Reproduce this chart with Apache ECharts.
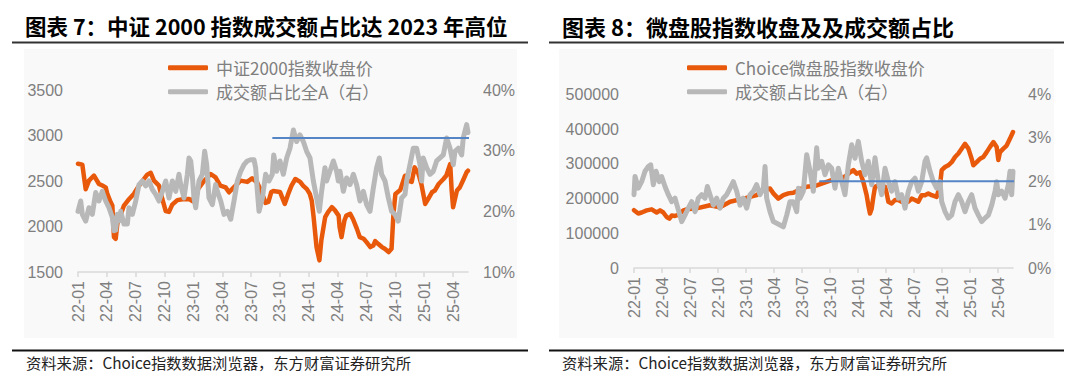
<!DOCTYPE html>
<html><head><meta charset="utf-8">
<script src="https://cdn.jsdelivr.net/npm/echarts@6/dist/echarts.min.js"></script>
<style>html,body{margin:0;padding:0;background:#fff}#c{width:1080px;height:380px}</style>
</head><body><div id="c"></div>
<script>
// ---- tick labels (x positions are months since 2022-01) ----
const xTickLabels = ['22-01','22-04','22-07','22-10','23-01','23-04','23-07','23-10','24-01','24-04','24-07','24-10','25-01','25-04'];

// ---- Chart 7: CSI 2000 close ----
const csiT = [
  0, 0.45, 0.8, 1.14, 1.66, 2.18, 2.53, 2.88, 3.05, 3.4,
  3.57, 3.74, 3.92, 4.09, 4.78, 5.3, 5.82, 6.17, 6.69, 7.2,
  7.56, 7.9, 8.42, 8.77, 9.12, 9.46, 9.8, 10.33, 10.85, 11.54,
  11.89, 12.4, 13.1, 13.8, 14.3, 14.8, 15.35, 15.7, 16.2, 16.9,
  17.6, 18.1, 18.65, 19.0, 19.5, 19.8, 20.1, 20.3, 21.0, 21.5,
  21.9, 22.2, 22.6, 23.1, 23.4, 23.8, 24.1, 24.3, 24.5, 24.8,
  25.1, 25.3, 25.7, 26.0, 26.4, 26.7, 27.1, 27.2, 27.4, 27.7,
  27.9, 28.3, 28.6, 29.0, 29.3, 29.7, 30.0, 30.4, 30.7, 30.9,
  31.2, 31.6, 31.9, 32.3, 32.6, 32.8, 33.0, 33.5, 34.0, 34.3,
  34.7, 35.0, 35.4, 35.7, 36.1, 36.4, 36.8, 37.1, 37.5, 38.0,
  38.3, 38.7, 38.85, 39.0, 39.4, 39.7, 40.1, 40.4, 40.55];
const csiClose = [
  2690, 2680, 2410, 2504, 2560, 2467, 2450, 2430, 2358, 2266,
  2230, 1883, 1865, 2029, 2230, 2300, 2360, 2420, 2500, 2570,
  2590, 2504, 2449, 2300, 2170, 2160, 2240, 2290, 2300, 2303,
  2280, 2400, 2500, 2577, 2540, 2450, 2430, 2376, 2430, 2504,
  2490, 2530, 2480, 2400, 2260, 2270, 2380, 2390, 2380, 2248,
  2370, 2450, 2522, 2490, 2449, 2410, 2358, 2285, 2102, 1774,
  1628, 1847, 2102, 2157, 2212, 2180, 2120, 1993, 1883, 2066,
  2120, 2139, 2080, 1974, 1883, 1865, 1828, 1774, 1790, 1840,
  1810, 1774, 1755, 1719, 1755, 2139, 2358, 2400, 2558, 2504,
  2490, 2650, 2577, 2467, 2248, 2300, 2376, 2395, 2467, 2522,
  2560, 2686, 2400, 2212, 2395, 2430, 2522, 2595, 2613];

// ---- Chart 7: CSI 2000 turnover share of all A (%) ----
const csiShareT = [
  0, 0.28, 0.45, 0.8, 1.14, 1.49, 1.84, 2.18, 2.53, 2.88,
  3.22, 3.57, 3.74, 3.92, 4.09, 4.26, 4.44, 4.78, 5.13, 5.3,
  5.65, 6.0, 6.34, 6.69, 7.04, 7.38, 7.73, 8.08, 8.42, 8.77,
  9.12, 9.46, 9.81, 10.16, 10.5, 10.68, 11.02, 11.37, 11.54, 11.72,
  11.89, 12.06, 12.24, 12.58, 12.93, 13.17, 13.38, 13.62, 13.97, 14.31,
  14.49, 14.84, 15.18, 15.53, 15.88, 16.22, 16.57, 16.92, 17.26, 17.6,
  17.95, 18.3, 18.47, 18.65, 18.82, 19.17, 19.51, 19.86, 20.2, 20.35,
  20.65, 21.0, 21.35, 21.7, 22.04, 22.4, 22.73, 23.08, 23.43, 23.77,
  24.12, 24.47, 24.81, 25.09, 25.33, 25.68, 25.85, 26.2, 26.55, 26.89,
  27.07, 27.24, 27.59, 27.93, 28.28, 28.63, 28.97, 29.32, 29.67, 30.01,
  30.36, 30.7, 31.05, 31.33, 31.57, 31.92, 32.27, 32.61, 32.96, 33.3,
  33.65, 34.0, 34.17, 34.52, 34.86, 35.21, 35.56, 35.73, 35.9, 36.25,
  36.6, 36.94, 37.29, 37.64, 37.98, 38.33, 38.68, 39.02, 39.2, 39.54,
  39.89, 40.06, 40.41, 40.55];
const csiShare = [
  20.0, 21.7, 19.5, 18.4, 20.6, 19.5, 23.1, 21.7, 23.3, 21.7,
  20.6, 19.0, 16.8, 16.9, 19.5, 18.4, 20.0, 17.9, 17.9, 20.6,
  19.5, 21.7, 24.4, 25.0, 24.2, 25.0, 23.6, 22.8, 21.7, 23.3,
  25.0, 22.2, 25.0, 23.3, 26.1, 24.4, 22.2, 26.1, 28.8, 28.3,
  25.8, 22.2, 20.6, 25.0, 26.1, 29.9, 27.7, 22.2, 21.1, 24.4,
  23.3, 21.7, 19.5, 20.0, 18.7, 21.7, 25.0, 26.6, 27.7, 28.3,
  28.5, 28.5, 27.2, 23.3, 20.0, 22.2, 26.1, 25.0, 26.1, 29.3,
  26.6, 28.3, 26.1, 28.8, 30.4, 33.4, 31.5, 32.6, 31.5, 29.9,
  28.8, 25.0, 22.2, 20.0, 23.3, 27.2, 25.0, 26.6, 28.3, 26.6,
  25.0, 26.6, 23.3, 25.5, 24.4, 26.1, 24.4, 21.7, 23.3, 21.1,
  20.0, 23.8, 27.2, 28.8, 26.1, 25.0, 22.2, 20.0, 19.5, 18.4,
  22.2, 22.8, 25.0, 27.7, 30.4, 30.4, 27.7, 25.0, 28.8, 27.2,
  26.1, 26.6, 28.3, 28.8, 29.3, 32.1, 30.4, 27.7, 29.9, 30.4,
  29.3, 32.1, 34.3, 33.0];
const csiRefT = [20.28, 41.07];
const csiRefLevel = [32.1, 32.1];

// ---- Chart 8: Choice micro-cap index close ----
const microT = [
  0, 0.46, 0.82, 1.36, 1.89, 2.43, 2.79, 3.14, 3.5, 3.79,
  4.04, 4.39, 4.75, 5.29, 5.64, 6.71, 8.14, 9.21, 10.29, 11.71,
  12.43, 13.14, 13.86, 14.57, 14.93, 15.46, 16.0, 16.54, 17.07, 17.61,
  17.96, 18.5, 19.57, 20.11, 20.64, 21.17, 21.89, 22.25, 22.78, 23.14,
  23.5, 23.85, 24.21, 24.57, 24.92, 25.1, 25.28, 25.46, 25.64, 25.82,
  26.17, 26.53, 26.89, 27.07, 27.25, 27.6, 27.96, 28.32, 28.67, 29.03,
  29.39, 29.75, 30.1, 30.46, 30.82, 31.17, 31.53, 31.89, 32.42, 32.78,
  32.96, 33.32, 33.67, 34.03, 34.39, 34.75, 35.1, 35.46, 35.82, 36.17,
  36.35, 36.71, 37.07, 37.42, 37.78, 38.14, 38.5, 38.85, 39.03, 39.21,
  39.57, 39.92, 40.28, 40.6];
const microClose = [
  166700, 157000, 160000, 166000, 169000, 160000, 166000, 160000, 147000, 142000,
  151000, 150000, 153000, 166000, 169000, 172000, 181000, 175000, 191000, 200000,
  205000, 210000, 224000, 229000, 215000, 200000, 210000, 215000, 217000, 224000,
  229000, 234000, 238000, 243000, 248000, 253000, 263000, 258000, 267000, 276000,
  282000, 272000, 276000, 248000, 210000, 181000, 157000, 171000, 205000, 234000,
  238000, 229000, 234000, 215000, 191000, 186000, 196000, 196000, 191000, 196000,
  191000, 200000, 196000, 191000, 210000, 210000, 215000, 210000, 205000, 238000,
  282000, 291000, 296000, 305000, 320000, 330000, 344000, 358000, 344000, 315000,
  296000, 305000, 315000, 320000, 334000, 349000, 363000, 349000, 311000, 334000,
  344000, 353000, 373000, 392000];

// ---- Chart 8: micro-cap turnover share of all A (%) ----
const microShareT = [
  0, 0.11, 0.46, 0.82, 1.18, 1.54, 1.79, 2.07, 2.36, 2.71,
  2.96, 3.32, 3.68, 4.04, 4.39, 4.75, 5.11, 5.46, 5.82, 6.18,
  6.54, 6.89, 7.25, 7.61, 7.86, 8.14, 8.5, 8.86, 9.21, 9.57,
  9.93, 10.29, 10.64, 11.0, 11.36, 11.71, 12.07, 12.43, 12.79, 13.14,
  13.5, 13.86, 14.04, 14.21, 14.57, 14.93, 15.29, 15.64, 16.0, 16.36,
  16.71, 17.07, 17.43, 17.61, 17.79, 18.14, 18.5, 18.86, 19.21, 19.57,
  19.75, 20.11, 20.46, 20.82, 21.17, 21.53, 21.89, 22.25, 22.6, 22.96,
  23.32, 23.67, 24.03, 24.39, 24.75, 25.1, 25.46, 25.82, 26.17, 26.53,
  26.89, 27.25, 27.6, 27.96, 28.32, 28.67, 29.03, 29.39, 29.75, 30.1,
  30.46, 30.82, 31.17, 31.35, 31.71, 32.07, 32.42, 32.78, 32.96, 33.32,
  33.67, 34.03, 34.39, 34.75, 35.1, 35.46, 35.82, 36.17, 36.53, 36.89,
  37.25, 37.6, 37.96, 38.32, 38.68, 38.85, 39.03, 39.39, 39.75, 40.1,
  40.28, 40.46, 40.6];
const microShare = [
  1.69, 2.11, 1.84, 1.99, 2.23, 2.34, 2.38, 1.92, 2.23, 1.99,
  2.11, 1.88, 1.69, 1.53, 1.61, 1.34, 1.07, 1.22, 1.38, 1.53,
  1.30, 1.61, 1.69, 1.61, 1.88, 1.69, 1.45, 1.61, 1.38, 1.61,
  1.69, 1.84, 1.99, 1.77, 1.45, 1.61, 1.38, 1.69, 1.77, 1.92,
  1.69, 1.84, 2.34, 1.61, 1.30, 1.07, 1.03, 0.99, 0.95, 1.22,
  1.53, 1.53, 1.30, 1.84, 1.61, 1.77, 2.61, 2.23, 1.77, 2.77,
  2.30, 2.46, 2.15, 2.38, 2.30, 1.84, 2.30, 1.99, 1.69, 2.38,
  2.84, 2.53, 2.92, 2.46, 2.15, 2.46, 1.92, 2.54, 1.99, 1.69,
  2.30, 1.99, 1.77, 1.99, 1.61, 1.69, 1.38, 1.77, 1.99, 2.07,
  1.77, 1.99, 2.46, 2.54, 2.23, 1.99, 1.84, 1.99, 1.53, 1.30,
  1.15, 1.22, 1.53, 1.69, 1.53, 1.30, 1.53, 1.69, 1.38, 1.22,
  1.07, 1.15, 1.22, 1.45, 1.77, 1.99, 1.69, 1.77, 1.61, 1.92,
  2.23, 1.69, 2.23];
const microRefT = [19.93, 41.36];
const microRefLevel = [2.0, 2.0];

// ---- texts ----
const titleLeft = '图表 7：中证 2000 指数成交额占比达 2023 年高位';
const titleRight = '图表 8：微盘股指数收盘及及成交额占比';
const sourceText = '资料来源：Choice指数数据浏览器，东方财富证券研究所';
const nameCsi = '中证2000指数收盘价';
const nameMicro = 'Choice微盘股指数收盘价';
const nameShare = '成交额占比全A（右）';

// ---- styling ----
const CJK = '"Noto Sans CJK SC", "Noto Sans", sans-serif';
const LAT = '"Liberation Sans", Arial, sans-serif';
const ORANGE = '#e8590c', GRAY = '#b8b8b8', BLUE = '#5585c5', TXT = '#7f7f7f';
const tickVals = xTickLabels.map((_, i) => i * 3);
const zip = (a, b) => a.map((v, i) => [v, b[i]]);
const plain = v => String(v);
const pct = v => v + '%';

function xAxisFor(gridIndex, max) {
  return {
    type: 'value', gridIndex, min: 0, max, interval: 3,
    axisLine: { show: true, lineStyle: { color: '#d9d9d9', width: 1.5 } },
    axisTick: { show: true, customValues: tickVals, length: 5, lineStyle: { color: '#d9d9d9', width: 1.5 } },
    axisLabel: { customValues: tickVals, rotate: 90, margin: 9, color: TXT, fontSize: 16, fontFamily: LAT,
      formatter: v => xTickLabels[Math.round(v / 3)] || '' },
    splitLine: { show: false }
  };
}
function yAxisFor(gridIndex, pos, min, max, interval, fmt) {
  return {
    type: 'value', gridIndex, position: pos, min, max, interval,
    axisLine: { show: false }, axisTick: { show: false }, splitLine: { show: false },
    axisLabel: { margin: 15, color: TXT, fontSize: 16, fontFamily: LAT, formatter: fmt }
  };
}
function lineSeries(name, xi, yi, data, color, width, z) {
  return { type: 'line', name, xAxisIndex: xi, yAxisIndex: yi, data, symbol: 'none', showSymbol: false,
    lineStyle: { color, width, cap: 'round', join: 'round' }, itemStyle: { color }, z, silent: true, animation: false };
}
function legendAt(left, names) {
  return { orient: 'vertical', left, top: 50.7, icon: 'roundRect', itemWidth: 40, itemHeight: 5, itemGap: 0,
    selectedMode: false, data: names,
    textStyle: { color: TXT, fontSize: 17, lineHeight: 24, fontFamily: CJK, padding: [0, 0, 0, 3] } };
}

const chart = echarts.init(document.getElementById('c'), null, { renderer: 'svg' });
chart.setOption({
  backgroundColor: '#ffffff',
  animation: false,
  title: [
    { text: titleLeft, left: 25, top: 15, padding: 0, textStyle: { fontFamily: CJK, fontWeight: 'bold', fontSize: 21.5, color: '#000' } },
    { text: titleRight, left: 562, top: 15, padding: 0, textStyle: { fontFamily: CJK, fontWeight: 'bold', fontSize: 22, color: '#000' } },
    { text: sourceText, left: 26, top: 354, padding: 0, textStyle: { fontFamily: CJK, fontWeight: 'normal', fontSize: 15.3, color: '#222' } },
    { text: sourceText, left: 562, top: 354, padding: 0, textStyle: { fontFamily: CJK, fontWeight: 'normal', fontSize: 15.3, color: '#222' } }
  ],
  graphic: [
    { type: 'rect', shape: { x: 24, y: 49, width: 493, height: 289 }, style: { fill: '#f9f9f9' }, z: -10, silent: true },
    { type: 'rect', shape: { x: 559, y: 49, width: 495, height: 289 }, style: { fill: '#f9f9f9' }, z: -10, silent: true },
    { type: 'line', shape: { x1: 12, y1: 42.5, x2: 528, y2: 42.5 }, style: { stroke: '#333', lineWidth: 2 }, silent: true },
    { type: 'line', shape: { x1: 549, y1: 42.5, x2: 1064, y2: 42.5 }, style: { stroke: '#333', lineWidth: 2 }, silent: true },
    { type: 'line', shape: { x1: 12, y1: 350.5, x2: 528, y2: 350.5 }, style: { stroke: '#111', lineWidth: 2 }, silent: true },
    { type: 'line', shape: { x1: 549, y1: 350.5, x2: 1064, y2: 350.5 }, style: { stroke: '#111', lineWidth: 2 }, silent: true }
  ],
  legend: [ legendAt(163, [nameCsi, nameShare]), legendAt(682, [nameMicro, nameShare]) ],
  grid: [
    { left: 78, top: 90, width: 390, height: 182, containLabel: false },
    { left: 634, top: 94.5, width: 379, height: 173.5, containLabel: false }
  ],
  xAxis: [ xAxisFor(0, 40.55), xAxisFor(1, 40.6) ],
  yAxis: [
    yAxisFor(0, 'left', 1500, 3500, 500, plain),
    yAxisFor(0, 'right', 10, 40, 10, pct),
    yAxisFor(1, 'left', 0, 500000, 100000, plain),
    yAxisFor(1, 'right', 0, 4, 1, pct)
  ],
  series: [
    lineSeries(nameCsi, 0, 0, zip(csiT, csiClose), ORANGE, 4.5, 2),
    lineSeries(nameShare, 0, 1, zip(csiShareT, csiShare), GRAY, 5, 3),
    Object.assign(lineSeries('ref7', 0, 1, zip(csiRefT, csiRefLevel), BLUE, 2, 4), { clip: false }),
    lineSeries(nameMicro, 1, 2, zip(microT, microClose), ORANGE, 4.5, 2),
    lineSeries(nameShare, 1, 3, zip(microShareT, microShare), GRAY, 5, 3),
    Object.assign(lineSeries('ref8', 1, 3, zip(microRefT, microRefLevel), BLUE, 2, 4), { clip: false })
  ]
});
</script>
</body></html>
